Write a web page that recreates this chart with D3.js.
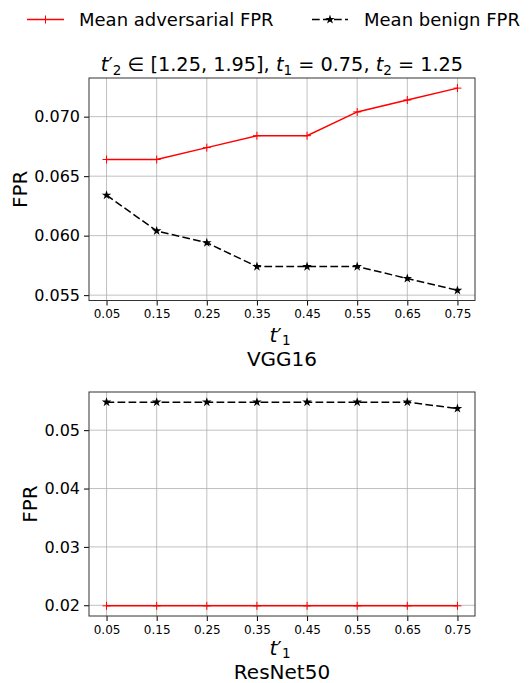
<!DOCTYPE html>
<html>
<head>
<meta charset="utf-8">
<script src="https://cdn.jsdelivr.net/npm/d3@7"></script>
<style>
  body { margin: 0; background: #fff; }
  svg { font-family: 'DejaVu Sans', sans-serif; }
  .grid line { stroke: #b0b0b0; stroke-width: 0.8; }
</style>
</head>
<body>
<div id="chart"></div>
<script>
const thresholds = [0.05, 0.15, 0.25, 0.35, 0.45, 0.55, 0.65, 0.75];
const tickLabels = ['0.05', '0.15', '0.25', '0.35', '0.45', '0.55', '0.65', '0.75'];

const vggAdversarial = [0.0664, 0.0664, 0.0674, 0.0684, 0.0684, 0.0704, 0.0714, 0.0724];
const vggBenign = [0.0634, 0.0604, 0.0594, 0.0574, 0.0574, 0.0574, 0.0564, 0.0554];
const vggYTicks = [0.055, 0.060, 0.065, 0.070];

const resAdversarial = [0.0199, 0.0199, 0.0199, 0.0199, 0.0199, 0.0199, 0.0199, 0.0199];
const resBenign = [0.0548, 0.0548, 0.0548, 0.0548, 0.0548, 0.0548, 0.0548, 0.0537];
const resYTicks = [0.02, 0.03, 0.04, 0.05];

const width = 529, height = 683;

const svg = d3.select('#chart').append('svg')
  .attr('width', width)
  .attr('height', height);

function plusShape() {
  return {
    draw(ctx, size) {
      const r = 4;
      ctx.moveTo(-r, 0); ctx.lineTo(r, 0);
      ctx.moveTo(0, -r); ctx.lineTo(0, r);
    }
  };
}

// legend
const legend = svg.append('g');
legend.append('line').attr('x1', 27).attr('x2', 64).attr('y1', 19.5).attr('y2', 19.5)
  .attr('stroke', 'red').attr('stroke-width', 1.5);
legend.append('path').attr('d', d3.symbol(plusShape(), 1)())
  .attr('transform', 'translate(45.5,19.5)').attr('stroke', 'red').attr('stroke-width', 1);
legend.append('text').attr('x', 79).attr('y', 26).attr('font-size', 18).text('Mean adversarial FPR');
legend.append('line').attr('x1', 312).attr('x2', 348).attr('y1', 19.5).attr('y2', 19.5)
  .attr('stroke', 'black').attr('stroke-width', 1.5).attr('stroke-dasharray', '7.7,3.3');
legend.append('path').attr('d', d3.symbol(d3.symbolStar, 28)())
  .attr('transform', 'translate(330,19.5)').attr('fill', 'black');
legend.append('text').attr('x', 364).attr('y', 26).attr('font-size', 18).text('Mean benign FPR');

// title with math
const title = svg.append('text').attr('x', 282).attr('y', 71)
  .attr('text-anchor', 'middle').attr('font-size', 19.3);
title.append('tspan').attr('font-style', 'italic').text('t');
title.append('tspan').text('′');
title.append('tspan').attr('font-size', 13.5).attr('dy', 4).text('2');
title.append('tspan').attr('dy', -4).text(' ∈ [1.25, 1.95], ');
title.append('tspan').attr('font-style', 'italic').text('t');
title.append('tspan').attr('font-size', 13.5).attr('dy', 4).text('1');
title.append('tspan').attr('dy', -4).text(' = 0.75, ');
title.append('tspan').attr('font-style', 'italic').text('t');
title.append('tspan').attr('font-size', 13.5).attr('dy', 4).text('2');
title.append('tspan').attr('dy', -4).text(' = 1.25');

function drawPanel(opts) {
  const { left, right, top, bottom, yDomain, yTicks, yFormat, adv, ben, name, yLabelX, labelDy, nameDy } = opts;
  const x = d3.scaleLinear().domain([0.015, 0.785]).range([left, right]);
  const y = d3.scaleLinear().domain(yDomain).range([bottom, top]);
  const g = svg.append('g');

  // grid
  const grid = g.append('g').attr('class', 'grid');
  grid.selectAll('.vx').data(thresholds).enter().append('line')
    .attr('x1', d => x(d)).attr('x2', d => x(d)).attr('y1', top).attr('y2', bottom);
  grid.selectAll('.hy').data(yTicks).enter().append('line')
    .attr('y1', d => y(d)).attr('y2', d => y(d)).attr('x1', left).attr('x2', right);

  // lines
  const line = d3.line().x((d, i) => x(thresholds[i])).y(d => y(d));
  g.append('path').datum(adv).attr('d', line).attr('fill', 'none')
    .attr('stroke', 'red').attr('stroke-width', 1.5);
  g.selectAll('.adv').data(adv).enter().append('path')
    .attr('d', d3.symbol(plusShape(), 1)())
    .attr('transform', (d, i) => `translate(${x(thresholds[i])},${y(d)})`)
    .attr('stroke', 'red').attr('stroke-width', 1);
  g.append('path').datum(ben).attr('d', line).attr('fill', 'none')
    .attr('stroke', 'black').attr('stroke-width', 1.5).attr('stroke-dasharray', '7.7,3.3');
  g.selectAll('.ben').data(ben).enter().append('path')
    .attr('d', d3.symbol(d3.symbolStar, 28)())
    .attr('transform', (d, i) => `translate(${x(thresholds[i])},${y(d)})`)
    .attr('fill', 'black');

  // axes
  const xAxis = g.append('g').attr('transform', `translate(0,${bottom})`)
    .call(d3.axisBottom(x).tickValues(thresholds).tickFormat((d, i) => tickLabels[i])
      .tickSize(5).tickPadding(4).tickSizeOuter(0));
  xAxis.select('.domain').remove();
  xAxis.selectAll('text').attr('font-size', 12).attr('font-family', 'DejaVu Sans');
  xAxis.selectAll('line').attr('stroke', '#000').attr('stroke-width', 1);

  const yAxis = g.append('g').attr('transform', `translate(${left},0)`)
    .call(d3.axisLeft(y).tickValues(yTicks).tickFormat(d3.format(yFormat))
      .tickSize(5).tickPadding(4).tickSizeOuter(0));
  yAxis.select('.domain').remove();
  yAxis.selectAll('text').attr('font-size', 16).attr('font-family', 'DejaVu Sans');
  yAxis.selectAll('line').attr('stroke', '#000').attr('stroke-width', 1);

  // frame
  g.append('rect').attr('x', left).attr('y', top)
    .attr('width', right - left).attr('height', bottom - top)
    .attr('fill', 'none').attr('stroke', '#333').attr('stroke-width', 1);

  // y label
  g.append('text').attr('transform', `translate(${yLabelX},${(top + bottom) / 2}) rotate(-90)`)
    .attr('text-anchor', 'middle').attr('font-size', 20).text('FPR');

  // x label t'_1
  const xl = g.append('text').attr('x', (left + right) / 2 - 2).attr('y', bottom + labelDy)
    .attr('text-anchor', 'middle').attr('font-size', 20);
  xl.append('tspan').attr('font-style', 'italic').text('t');
  xl.append('tspan').text('′');
  xl.append('tspan').attr('font-size', 13.5).attr('dy', 3).text('1');

  g.append('text').attr('x', (left + right) / 2).attr('y', bottom + nameDy)
    .attr('text-anchor', 'middle').attr('font-size', 20).text(name);
}

drawPanel({
  left: 89, right: 475, top: 78, bottom: 300.5,
  yDomain: [0.05455, 0.07325], yTicks: vggYTicks, yFormat: '.3f',
  adv: vggAdversarial, ben: vggBenign, name: 'VGG16', yLabelX: 27, labelDy: 41, nameDy: 65
});

drawPanel({
  left: 89, right: 475, top: 392, bottom: 616,
  yDomain: [0.01816, 0.05654], yTicks: resYTicks, yFormat: '.2f',
  adv: resAdversarial, ben: resBenign, name: 'ResNet50', yLabelX: 37, labelDy: 38.5, nameDy: 62.5
});
</script>
</body>
</html>
